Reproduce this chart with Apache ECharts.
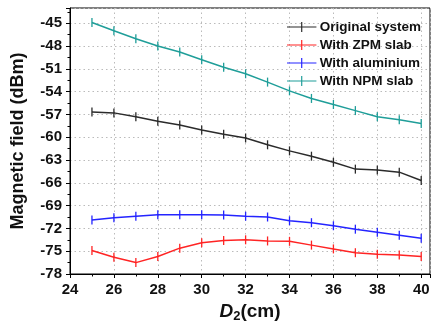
<!DOCTYPE html>
<html><head><meta charset="utf-8">
<script src="https://cdn.jsdelivr.net/npm/echarts@6/dist/echarts.min.js"></script>
<style>html,body{margin:0;padding:0;background:#fff}#c{width:431px;height:322px}</style>
</head><body><div id="c"></div>
<script>
const xValues = [25,26,27,28,29,30,31,32,33,34,35,36,37,38,39,40];
const seriesNames = ['Original system','With ZPM slab','With aluminium','With NPM slab'];
const original = [-56.7,-56.8,-57.3,-57.9,-58.4,-59.05,-59.6,-60.1,-61.0,-61.8,-62.5,-63.3,-64.2,-64.3,-64.6,-65.7];
const zpm = [-74.9,-75.8,-76.5,-75.7,-74.6,-73.9,-73.6,-73.5,-73.65,-73.7,-74.2,-74.7,-75.2,-75.4,-75.5,-75.7];
const aluminium = [-70.9,-70.6,-70.4,-70.2,-70.2,-70.2,-70.25,-70.4,-70.5,-71.0,-71.25,-71.65,-72.1,-72.5,-72.9,-73.3];
const npm = [-44.9,-46.0,-47.05,-48.0,-48.8,-49.8,-50.8,-51.65,-52.75,-53.9,-54.9,-55.7,-56.5,-57.3,-57.7,-58.2];
const xTicks = [24,26,28,30,32,34,36,38,40];
const yTicks = [-45,-48,-51,-54,-57,-60,-63,-66,-69,-72,-75,-78];
const colors = ['#2b2b2b','#ff2424','#2424ff','#1f9e99'];
const allData = [original, zpm, aluminium, npm];

const chart = echarts.init(document.getElementById('c'), null, {renderer:'canvas'});
const font = 'Liberation Sans, Arial, sans-serif';
const plusIcon = 'path://M0,4.5h30v1.2h-30z M14.4,0h1.2v10.2h-1.2z';
chart.setOption({
  animation:false,
  grid:{left:70, top:8, width:360, height:266, show:true, borderColor:'#000', borderWidth:1,
        containLabel:false, outerBoundsMode:'none'},
  legend:{
    right:5, top:15, orient:'vertical', itemWidth:30, itemHeight:10, itemGap:4,
    icon:plusIcon,
    textStyle:{fontFamily:font, fontWeight:'bold', fontSize:13.5, color:'#111', padding:[0,0,0,-2]},
    data:seriesNames
  },
  xAxis:{
    type:'value', min:24, max:40.4, interval:2,
    axisLine:{lineStyle:{color:'#000', width:1}},
    axisTick:{inside:false, length:4, lineStyle:{color:'#000'}},
    minorTick:{show:true, splitNumber:2, length:2.5, lineStyle:{color:'#000'}},
    splitLine:{show:true, lineStyle:{color:'#bbb', type:[1.5,3], width:1}},
    axisLabel:{fontFamily:font, fontWeight:'bold', fontSize:15, color:'#111', margin:8,
      showMaxLabel:false,
      formatter:function(v){return xTicks.indexOf(v)>=0 ? String(v) : '';}},
    name:'{i|D}{s|2}{n|(cm)}', nameLocation:'middle', nameGap:23,
    nameTextStyle:{rich:{
      i:{fontFamily:font, fontWeight:'bold', fontStyle:'italic', fontSize:19, color:'#111'},
      s:{fontFamily:font, fontWeight:'bold', fontSize:13, color:'#111', padding:[10,0,0,0]},
      n:{fontFamily:font, fontWeight:'bold', fontSize:19, color:'#111'}
    }}
  },
  yAxis:{
    type:'value', min:-78, max:-43, interval:3,
    axisLine:{lineStyle:{color:'#000', width:1}},
    axisTick:{inside:false, length:4, lineStyle:{color:'#000'}},
    minorTick:{show:true, splitNumber:2, length:2.5, lineStyle:{color:'#000'}},
    splitLine:{show:true, lineStyle:{color:'#bbb', type:[1.5,3], width:1}},
    axisLabel:{fontFamily:font, fontWeight:'bold', fontSize:15, color:'#111', margin:8,
      formatter:function(v){return yTicks.indexOf(v)>=0 ? String(v) : '';}},
    name:'Magnetic field (dBm)', nameLocation:'middle', nameGap:43,
    nameTextStyle:{fontFamily:font, fontWeight:'bold', fontSize:18, color:'#111'}
  },
  series: seriesNames.map(function(n,i){
    return {
      name:n, type:'line', data:xValues.map(function(x,j){return [x, allData[i][j]];}),
      symbol:'rect', symbolSize:[1.3,9], showSymbol:true,
      itemStyle:{color:colors[i]},
      lineStyle:{color:colors[i], width:1.5}
    };
  })
});
</script></body></html>
